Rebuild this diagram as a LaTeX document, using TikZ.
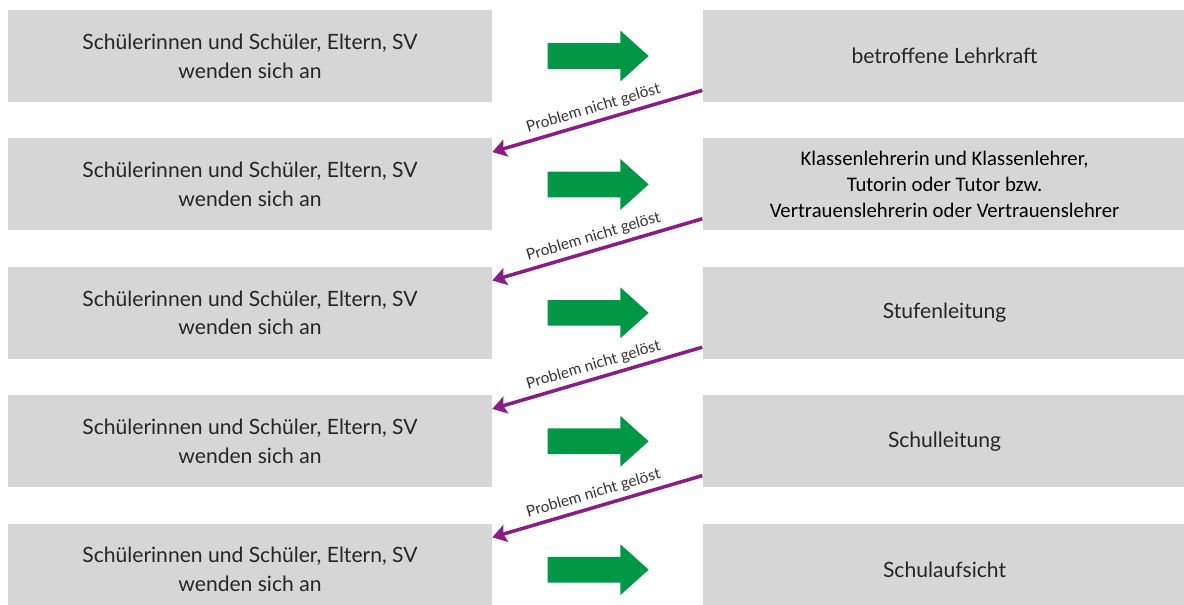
\documentclass[tikz,border=0pt]{standalone}
\usepackage{fontspec}
\setmainfont{Lato}
\newfontfamily\calibri{Carlito}
\usetikzlibrary{arrows.meta, positioning, shapes.arrows}

\definecolor{kastengrau}{RGB}{214,214,214}
\definecolor{pfeilgruen}{RGB}{0,152,70}
\definecolor{pfeillila}{RGB}{139,27,134}

\newcommand{\anfrager}{Schülerinnen und Schüler, Eltern, SV\\ wenden sich an}

\begin{document}
\begin{tikzpicture}[x=0.02cm, y=-0.02cm,
    node distance=0.715cm and 4.2cm,
    kasten/.style = {shape=rectangle, fill=kastengrau, minimum width=9.68cm, minimum height=1.84cm,
        inner sep=0pt, align=center, font=\fontsize{12}{16.4}\selectfont, text=black!85},
    gruenpfeil/.style = {single arrow, fill=pfeilgruen, inner sep=0pt, inner ysep=0.25cm,
        minimum height=2.02cm, minimum width=0.9cm, single arrow tip angle=84, single arrow head indent=0pt},
    lilapfeil/.style = {draw=pfeillila, line width=2pt, -{Stealth[length=8pt,width=10pt,inset=1.5pt]}},
    hinweis/.style = {sloped, above, midway, inner sep=2.5pt, font=\fontsize{8.8}{10}\selectfont, text=black!80}]
    \useasboundingbox (0,0) rectangle (1184,605);

    % Zeile 1
    \node[kasten] (l1) at (250,56) {\anfrager};
    \node[kasten, right=of l1] (r1) {betroffene Lehrkraft};
    % Zeile 2
    \node[kasten, below=of l1] (l2) {\anfrager};
    \node[kasten, right=of l2, font=\calibri\fontsize{11.8}{14.7}\selectfont, text=black] (r2)
        {Klassenlehrerin und Klassenlehrer,\\ Tutorin oder Tutor bzw.\\ Vertrauenslehrerin oder Vertrauenslehrer};
    % Zeile 3
    \node[kasten, below=of l2] (l3) {\anfrager};
    \node[kasten, right=of l3] (r3) {Stufenleitung};
    % Zeile 4
    \node[kasten, below=of l3] (l4) {\anfrager};
    \node[kasten, right=of l4] (r4) {Schulleitung};
    % Zeile 5
    \node[kasten, below=of l4] (l5) {\anfrager};
    \node[kasten, right=of l5] (r5) {Schulaufsicht};

    \foreach \i in {1,...,5}
      \node[gruenpfeil, right=1.1cm of l\i] (g\i) {};

    \foreach \i [count=\j from 2] in {1,...,4}
      \draw[lilapfeil] ([yshift=0.24cm]r\i.south west) -- ([yshift=-0.28cm]l\j.north east)
        node[hinweis] {Problem nicht gelöst};
\end{tikzpicture}
\end{document}
